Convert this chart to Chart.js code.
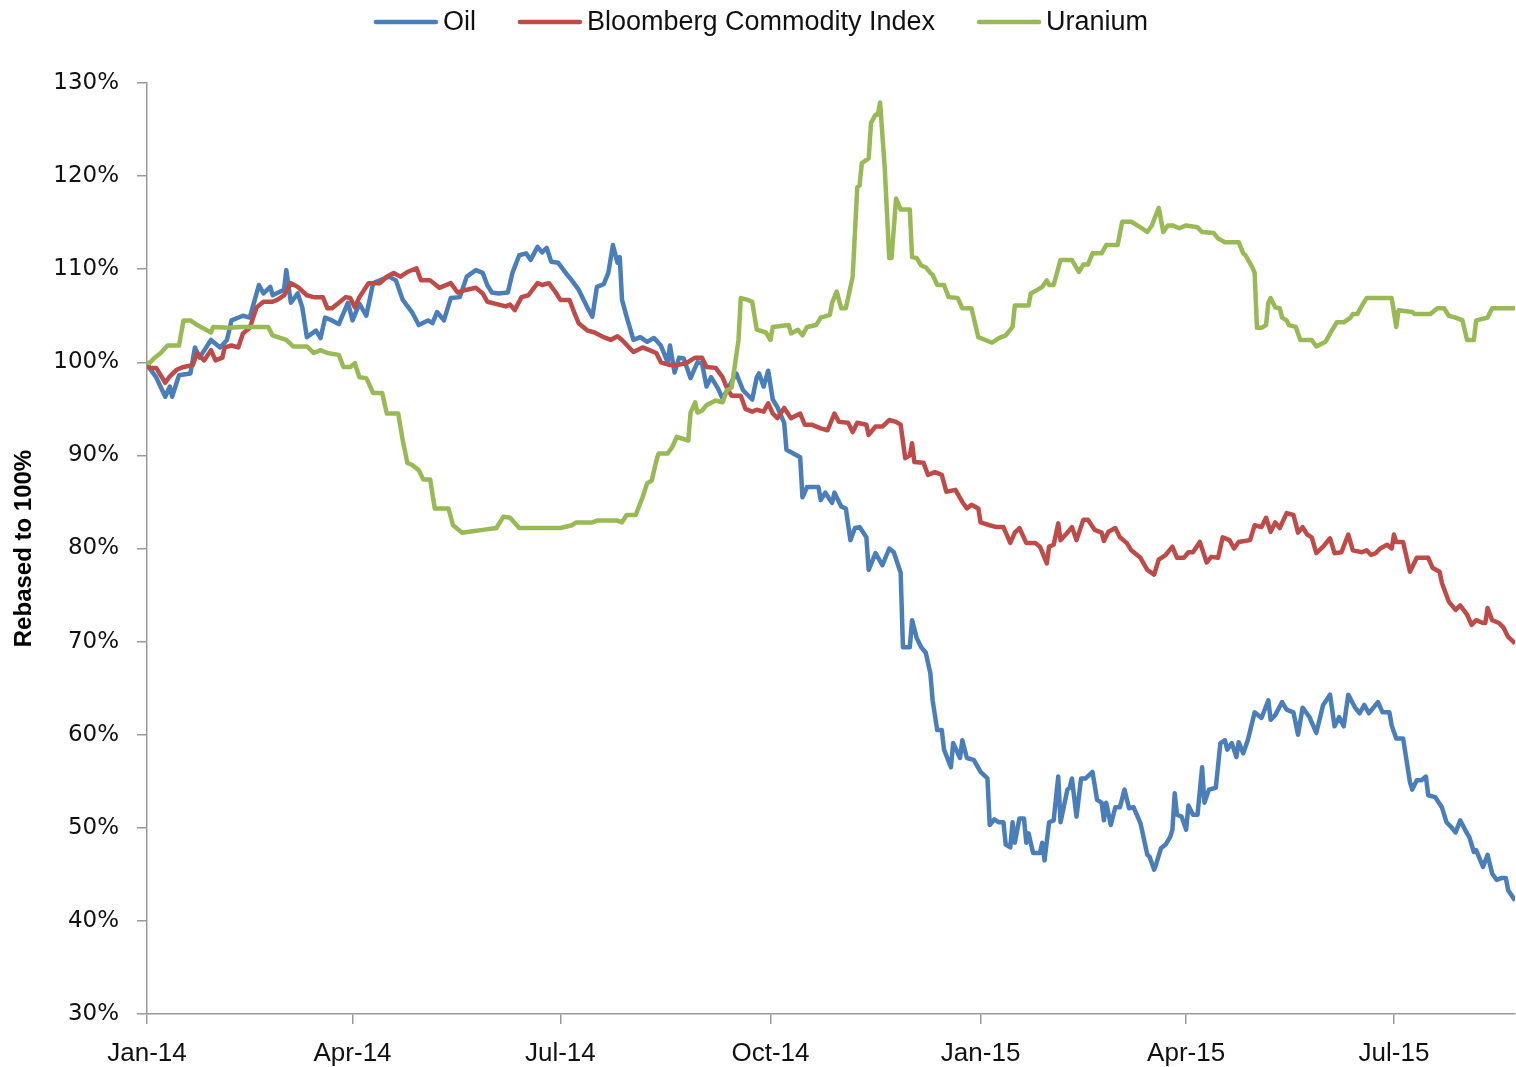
<!DOCTYPE html>
<html>
<head>
<meta charset="utf-8">
<title>Oil, Bloomberg Commodity Index, Uranium</title>
<script src="https://cdn.jsdelivr.net/npm/chart.js@4.4.1/dist/chart.umd.min.js"></script>
<style>
    body { margin: 0; background: #fff; }
    #contenedor { width: 1516px; height: 1067px; }
</style>
</head>
<body>
<div id="contenedor"><canvas id="grafico" width="1516" height="1067"></canvas></div>
<script>
// dias desde el 1 de enero de 2014
const diasTicks = [0, 90, 181, 273, 365, 455, 546];
const etiquetasTicks = ['Jan-14', 'Apr-14', 'Jul-14', 'Oct-14', 'Jan-15', 'Apr-15', 'Jul-15'];
const nombresSeries = ['Oil', 'Bloomberg Commodity Index', 'Uranium'];
const coloresSeries = ['#4a7ebb', '#be4b48', '#98b954'];

// [dia, valor en %]
const oil = [
    [0,100],[1,99.4],[4,98.4],[8,96.3],[10,97.4],[11,96.3],[14,98.6],[19,98.8],[21,101.6],[23,100.5],[28,102.4],[32,101.6],
    [35,102.4],[37,104.5],[42,105.0],[45,104.8],[49,108.3],[51,107.4],[54,108.1],[55,107.2],[60,107.8],[61,109.9],[63,106.4],
    [66,107.4],[68,105.9],[70,102.7],[74,103.4],[76,102.6],[78,104.8],[81,104.5],[84,104.1],[88,106.4],[90,104.5],[93,106.3],
    [96,105.0],[99,108.5],[106,109.2],[109,108.8],[112,106.7],[116,105.4],[119,104.0],[123,104.5],[125,104.2],[127,105.4],
    [130,104.5],[133,106.9],[137,107.0],[140,109.2],[144,109.9],[147,109.6],[149,108.3],[151,107.5],[154,107.4],[158,107.5],
    [160,109.6],[163,111.5],[166,111.7],[168,111.0],[171,112.4],[173,111.8],[175,112.3],[177,110.8],[180,110.7],[184,109.4],
    [186,108.8],[189,107.8],[193,105.8],[195,104.9],[197,108.1],[200,108.4],[202,109.6],[204,112.6],[206,110.7],[207,111.3],
    [208,106.7],[210,104.9],[213,102.4],[216,102.7],[219,102.2],[222,102.6],[225,101.8],[228,100.0],[229,101.8],[231,98.9],
    [233,100.5],[235,100.4],[238,98.3],[241,100.0],[243,99.9],[245,97.4],[247,98.4],[250,97.2],[252,96.1],[254,97.0],
    [258,98.8],[261,97.0],[265,96.0],[267,98.4],[268,98.8],[270,97.4],[272,99.1],[274,96.0],[276,95.2],[279,93.5],
    [280,90.6],[286,89.8],[287,85.5],[289,86.6],[294,86.6],[295,85.2],[297,86.0],[300,84.9],[301,86.0],[304,84.5],
    [306,84.3],[308,80.9],[310,82.2],[312,82.3],[315,81.2],[316,77.7],[319,79.5],[322,78.2],[325,80.0],[327,79.6],
    [330,77.4],[331,69.4],[334,69.4],[335,72.3],[337,70.4],[339,69.4],[341,68.8],[343,66.6],[344,63.7],[346,60.5],
    [348,60.5],[349,58.4],[352,56.5],[353,59.1],[356,57.5],[357,59.4],[359,57.5],[362,57.3],[365,56.0],[368,55.3],
    [369,50.3],[371,50.9],[373,50.6],[375,50.6],[376,48.2],[378,47.9],[379,50.6],[380,48.4],[382,51.0],[384,51.0],
    [385,48.4],[386,49.4],[388,47.3],[391,47.3],[392,48.4],[393,46.5],[395,50.6],[397,50.8],[399,55.5],[400,50.6],
    [403,54.1],[404,54.3],[405,55.3],[407,51.2],[409,55.3],[411,55.3],[414,56.0],[416,53.0],[418,52.7],[419,50.8],
    [420,52.7],[422,50.3],[424,52.2],[426,52.2],[428,54.1],[430,52.1],[432,52.2],[435,50.5],[436,49.4],[438,47.1],
    [439,46.9],[441,45.5],[442,46.2],[444,47.8],[446,48.2],[448,49.0],[449,49.8],[450,53.7],[451,51.4],[453,51.2],
    [455,49.8],[456,52.4],[458,51.4],[460,51.4],[462,56.5],[463,52.7],[465,54.1],[468,54.3],[470,59.1],[472,59.4],
    [473,58.4],[475,59.1],[477,57.6],[478,59.2],[480,58.0],[482,59.4],[485,62.4],[488,61.8],[491,63.7],[492,61.6],
    [494,62.1],[497,63.5],[499,62.7],[502,62.4],[504,60.0],[506,62.9],[509,61.9],[512,60.2],[515,63.2],[518,64.3],
    [520,60.9],[522,61.9],[524,60.9],[526,64.3],[529,62.9],[531,62.3],[533,63.2],[535,62.3],[539,63.5],[541,62.4],
    [544,62.4],[545,61.0],[547,59.6],[550,59.6],[553,54.9],[554,54.1],[556,55.1],[558,55.1],[560,55.5],[561,53.5],
    [564,53.3],[567,52.2],[569,50.6],[571,50.1],[573,49.5],[575,50.8],[578,49.4],[579,49.0],[581,47.4],[582,47.6],
    [585,45.8],[587,47.1],[589,45.1],[591,44.4],[593,44.6],[595,44.6],[596,43.3],[599,42.2]
];

const bloomberg = [
    [0,100],[1,99.4],[4,99.4],[8,97.8],[10,98.5],[13,99.2],[16,99.5],[20,99.7],[22,101.0],[25,100.2],[28,101.3],[30,100.2],
    [33,100.5],[34,101.6],[37,101.8],[40,101.6],[42,103.1],[45,103.7],[48,105.9],[51,106.5],[55,106.5],[57,106.7],[60,107.2],
    [63,108.5],[66,108.1],[70,107.2],[73,107.0],[77,107.0],[79,105.8],[81,105.8],[84,106.4],[87,107.0],[89,106.9],[91,105.9],
    [93,107.0],[97,108.5],[102,108.5],[105,109.2],[108,109.6],[111,109.2],[114,109.7],[118,110.1],[120,108.8],[124,108.8],
    [128,108.0],[133,108.5],[136,107.5],[140,107.8],[144,108.0],[147,107.4],[149,106.5],[154,106.2],[157,106.0],[159,106.2],
    [161,105.6],[164,107.0],[167,107.2],[171,108.5],[173,108.3],[176,108.5],[179,107.5],[181,106.7],[185,106.7],[187,105.4],
    [189,104.2],[193,103.4],[196,103.2],[200,102.7],[203,102.4],[206,102.8],[208,102.4],[213,101.1],[217,101.6],[220,101.3],
    [223,101.0],[225,100.0],[229,99.7],[232,99.7],[236,99.9],[240,100.5],[243,100.5],[245,99.5],[249,99.4],[252,98.4],
    [254,97.2],[256,96.4],[260,96.4],[262,95.0],[265,94.7],[267,94.9],[270,94.7],[272,95.6],[274,94.5],[276,94.0],
    [279,95.1],[282,94.0],[286,94.5],[288,93.3],[291,93.3],[295,92.9],[298,92.7],[301,94.5],[303,93.6],[307,93.5],
    [309,92.5],[311,93.5],[315,93.3],[316,92.2],[319,93.1],[322,93.1],[325,93.8],[328,93.6],[330,93.3],[332,89.7],
    [334,90.0],[335,91.3],[336,89.3],[340,89.2],[342,87.9],[345,88.2],[348,87.9],[350,86.1],[354,86.3],[357,85.0],
    [359,84.3],[361,84.7],[364,84.3],[365,82.8],[369,82.5],[372,82.3],[375,82.3],[378,80.6],[380,81.7],[382,82.2],
    [385,80.6],[389,80.6],[391,80.2],[394,78.4],[395,80.2],[397,80.4],[399,82.7],[400,80.9],[403,81.7],[405,82.3],
    [407,80.9],[410,83.1],[412,83.1],[415,82.0],[418,81.7],[419,80.8],[421,81.8],[424,82.2],[426,81.2],[429,80.6],
    [431,79.8],[435,79.0],[438,77.7],[441,77.2],[443,78.8],[446,79.3],[449,80.2],[451,79.0],[454,79.0],[456,79.6],
    [458,79.6],[461,80.7],[464,78.5],[466,79.1],[469,79.0],[471,81.2],[474,80.9],[476,80.0],[478,80.7],[483,80.9],
    [485,82.5],[488,82.3],[490,83.3],[492,81.8],[494,82.8],[496,82.2],[499,83.8],[502,83.6],[504,81.7],[506,82.3],
    [508,81.5],[510,81.2],[512,79.5],[515,80.2],[518,81.1],[520,79.5],[523,79.6],[526,81.5],[528,79.8],[532,79.6],
    [534,79.8],[536,79.3],[538,79.5],[540,80.0],[543,80.4],[545,80.0],[546,81.5],[547,80.7],[550,80.7],[553,77.5],
    [556,79.0],[558,79.0],[561,79.0],[563,77.9],[566,77.5],[567,76.3],[570,74.3],[573,73.4],[575,73.9],[578,72.9],
    [580,71.8],[582,72.3],[585,72.0],[586,72.0],[587,73.6],[589,72.3],[592,72.0],[594,71.5],[596,70.5],[599,69.8]
];

const uranium = [
    [0,100],[1,99.9],[3,100.4],[6,101.0],[9,101.8],[14,101.8],[16,104.5],[19,104.5],[22,104.0],[28,103.2],[29,103.8],
    [36,103.7],[41,103.8],[53,103.8],[55,102.9],[61,102.4],[64,101.7],[70,101.7],[73,101.0],[76,101.3],[79,101.0],
    [84,100.8],[86,99.5],[89,99.5],[91,99.9],[93,98.4],[96,98.3],[97,97.8],[99,96.7],[103,96.7],[105,94.5],[110,94.5],
    [112,91.6],[114,89.2],[116,89.0],[119,88.4],[121,87.4],[124,87.4],[126,84.3],[132,84.3],[134,82.5],[138,81.7],
    [141,81.8],[147,82.0],[153,82.2],[156,83.4],[159,83.3],[163,82.2],[181,82.2],[186,82.5],[188,82.8],[195,82.8],
    [197,83.0],[206,83.0],[208,82.8],[210,83.6],[214,83.6],[217,85.5],[219,87.0],[221,87.3],[223,89.4],[224,90.2],
    [228,90.2],[230,90.9],[232,92.0],[237,91.6],[238,94.6],[240,95.7],[241,94.6],[243,94.8],[245,95.4],[249,95.9],
    [252,95.7],[254,97.0],[256,97.3],[259,102.4],[260,106.9],[263,106.7],[265,106.5],[267,103.5],[271,103.2],[273,102.4],
    [274,103.8],[281,104.0],[282,103.1],[285,103.5],[287,102.9],[289,103.8],[293,104.0],[295,104.8],[299,105.1],[300,106.4],
    [302,107.6],[304,105.8],[306,105.8],[309,109.2],[311,118.8],[312,119.0],[313,121.4],[316,121.9],[317,125.7],[319,126.6],
    [320,126.6],[321,127.9],[323,121.0],[325,111.2],[326,111.2],[328,117.6],[330,116.4],[334,116.4],[335,111.3],[337,111.2],
    [339,110.4],[341,110.2],[343,109.6],[344,109.4],[346,108.3],[349,108.3],[351,107.0],[355,106.9],[357,105.8],[361,105.8],
    [364,102.7],[370,102.1],[373,102.6],[376,102.9],[379,103.8],[380,106.1],[386,106.1],[387,107.4],[390,107.8],[392,108.1],
    [394,108.8],[395,108.3],[397,108.3],[400,111.0],[405,111.0],[408,109.7],[410,110.5],[412,110.5],[414,111.7],[418,111.7],
    [420,112.6],[425,112.6],[427,115.1],[431,115.1],[435,114.5],[438,114.0],[440,114.7],[443,116.6],[445,114.0],[447,114.7],
    [449,114.7],[452,114.4],[455,114.7],[460,114.5],[462,114.0],[467,113.9],[469,113.3],[472,112.9],[478,112.9],[480,111.7],
    [481,111.5],[484,110.2],[485,109.6],[486,103.7],[488,103.7],[490,104.0],[491,106.4],[492,106.9],[494,105.9],[496,105.8],
    [497,104.8],[499,104.5],[500,104.0],[503,103.8],[505,102.4],[510,102.4],[512,101.7],[516,102.2],[519,103.5],[521,104.3],
    [524,104.3],[527,104.8],[528,105.2],[530,105.2],[532,106.1],[534,106.9],[545,106.9],[547,103.8],[548,105.6],[554,105.4],
    [555,105.2],[562,105.2],[565,105.8],[568,105.8],[570,105.0],[573,104.8],[576,104.5],[578,102.4],[581,102.4],[582,104.5],
    [587,104.8],[589,105.8],[599,105.8]
];

const series = [oil, bloomberg, uranium];

// leyenda con lineas, centrada arriba
const leyendaLineas = {
    id: 'leyendaLineas',
    afterDraw(chart) {
        const ctx = chart.ctx;
        ctx.save();
        ctx.font = '27px "Liberation Sans"';
        const items = chart.data.datasets.map(ds => ({
            texto: ds.label,
            color: ds.borderColor,
            ancho: ctx.measureText(ds.label).width
        }));
        const total = items.reduce((s, it) => s + 67 + it.ancho, 0) + 44 * (items.length - 1);
        let x = (chart.width - total) / 2 + 4;
        const y = 22;
        items.forEach(it => {
            ctx.strokeStyle = it.color;
            ctx.lineWidth = 4.5;
            ctx.lineCap = 'round';
            ctx.beginPath();
            ctx.moveTo(x, y);
            ctx.lineTo(x + 60, y);
            ctx.stroke();
            ctx.fillStyle = '#111';
            ctx.textBaseline = 'middle';
            ctx.fillText(it.texto, x + 67, y + 1);
            x += 67 + it.ancho + 44;
        });
        ctx.restore();
    }
};

const ctx = document.getElementById('grafico').getContext('2d');
new Chart(ctx, {
    type: 'line',
    data: {
        datasets: series.map((s, i) => ({
            label: nombresSeries[i],
            data: s.map(p => ({ x: p[0], y: p[1] })),
            borderColor: coloresSeries[i],
            backgroundColor: coloresSeries[i],
            borderWidth: 4.5,
            borderJoinStyle: 'round',
            pointRadius: 0,
            tension: 0,
            order: 3 - i
        }))
    },
    options: {
        responsive: false,
        devicePixelRatio: 1,
        animation: false,
        layout: { padding: { top: 83, left: 0, right: 1, bottom: 0 } },
        plugins: {
            legend: { display: false },
            tooltip: { enabled: false }
        },
        scales: {
            x: {
                type: 'linear',
                min: 0,
                max: 599,
                afterBuildTicks: scale => { scale.ticks = diasTicks.map(v => ({ value: v })); },
                afterFit: scale => { scale.height = 53; },
                ticks: {
                    autoSkip: false,
                    maxRotation: 0,
                    padding: 14,
                    color: '#111',
                    font: { family: 'Liberation Sans', size: 26 },
                    callback: v => etiquetasTicks[diasTicks.indexOf(v)]
                },
                grid: { drawOnChartArea: false, drawTicks: true, tickLength: 10, color: '#999', lineWidth: 1.5 },
                border: { color: '#999', width: 1.5 }
            },
            y: {
                min: 30,
                max: 130,
                afterFit: scale => { scale.width = 147; },
                ticks: {
                    stepSize: 10,
                    padding: 18,
                    color: '#111',
                    font: { family: 'DejaVu Sans', size: 23 },
                    callback: v => v + '%'
                },
                grid: { drawOnChartArea: false, drawTicks: true, tickLength: 10, color: '#999', lineWidth: 1.5 },
                border: { color: '#999', width: 1.5 },
                title: {
                    display: true,
                    text: 'Rebased to 100%',
                    color: '#000',
                    font: { family: 'Liberation Sans', size: 24, weight: 'bold' },
                    padding: { top: 10, bottom: 0 }
                }
            }
        }
    },
    plugins: [leyendaLineas]
});
</script>
</body>
</html>
